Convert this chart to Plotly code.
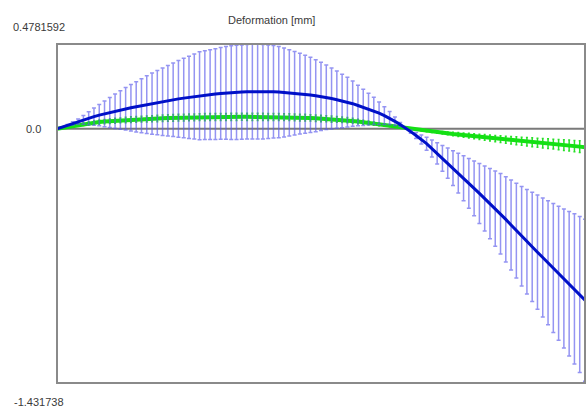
import plotly.graph_objects as go

# Position along the member (sample index) and deformation values [mm]
position = list(range(101))

blue_mean = [
    0.0, 0.0103, 0.0207, 0.0310, 0.0413, 0.0508, 0.0598, 0.0687, 0.0777, 0.0850,
    0.0919, 0.0989, 0.1059, 0.1127, 0.1186, 0.1245, 0.1305, 0.1364, 0.1421, 0.1476,
    0.1531, 0.1586, 0.1641, 0.1689, 0.1733, 0.1778, 0.1822, 0.1866, 0.1899, 0.1931,
    0.1962, 0.1994, 0.2023, 0.2040, 0.2057, 0.2074, 0.2091, 0.2099, 0.2097, 0.2095,
    0.2093, 0.2091, 0.2075, 0.2054, 0.2033, 0.2012, 0.1990, 0.1951, 0.1911, 0.1871,
    0.1830, 0.1783, 0.1713, 0.1644, 0.1574, 0.1504, 0.1419, 0.1317, 0.1216, 0.1114,
    0.1013, 0.0884, 0.0747, 0.0609, 0.0426, 0.0240, 0.0054, -0.0157, -0.0377, -0.0597,
    -0.0833, -0.1108, -0.1382, -0.1657, -0.1931, -0.2212, -0.2497, -0.2782, -0.3067, -0.3352,
    -0.3638, -0.3923, -0.4208, -0.4493, -0.4781, -0.5098, -0.5415, -0.5732, -0.6048, -0.6358,
    -0.6653, -0.6949, -0.7245, -0.7540, -0.7836, -0.8132, -0.8427, -0.8723, -0.9019, -0.9333,
    -0.9650,
]

blue_err = [
    0.0, 0.0023, 0.0046, 0.0088, 0.0148, 0.0246, 0.0364, 0.0483, 0.0603, 0.0725,
    0.0847, 0.0970, 0.1085, 0.1197, 0.1308, 0.1416, 0.1521, 0.1626, 0.1724, 0.1812,
    0.1900, 0.1989, 0.2077, 0.2162, 0.2240, 0.2317, 0.2395, 0.2473, 0.2504, 0.2531,
    0.2558, 0.2585, 0.2612, 0.2639, 0.2652, 0.2657, 0.2663, 0.2668, 0.2674, 0.2660,
    0.2630, 0.2600, 0.2570, 0.2505, 0.2428, 0.2352, 0.2275, 0.2198, 0.2122, 0.2030,
    0.1926, 0.1820, 0.1716, 0.1610, 0.1505, 0.1399, 0.1273, 0.1147, 0.1021, 0.0896,
    0.0768, 0.0634, 0.0501, 0.0367, 0.0237, 0.0113, 0.0007, 0.0087, 0.0166, 0.0254,
    0.0368, 0.0483, 0.0603, 0.0726, 0.0848, 0.0981, 0.1121, 0.1261, 0.1402, 0.1547,
    0.1691, 0.1835, 0.1979, 0.2123, 0.2267, 0.2402, 0.2538, 0.2673, 0.2808, 0.2943,
    0.3078, 0.3218, 0.3357, 0.3497, 0.3637, 0.3778, 0.3917, 0.4068, 0.4233, 0.4398,
    0.4564,
]

green_mean = [
    0.0, 0.0055, 0.0110, 0.0165, 0.0220, 0.0266, 0.0305, 0.0345, 0.0384, 0.0410,
    0.0432, 0.0455, 0.0478, 0.0501, 0.0522, 0.0535, 0.0548, 0.0561, 0.0574, 0.0586,
    0.0599, 0.0611, 0.0619, 0.0627, 0.0635, 0.0643, 0.0651, 0.0659, 0.0662, 0.0665,
    0.0668, 0.0670, 0.0673, 0.0676, 0.0678, 0.0680, 0.0678, 0.0677, 0.0676, 0.0674,
    0.0673, 0.0672, 0.0670, 0.0663, 0.0655, 0.0646, 0.0637, 0.0628, 0.0619, 0.0601,
    0.0584, 0.0567, 0.0550, 0.0533, 0.0516, 0.0497, 0.0457, 0.0417, 0.0377, 0.0337,
    0.0297, 0.0257, 0.0211, 0.0164, 0.0117, 0.0070, 0.0023, -0.0018, -0.0053, -0.0087,
    -0.0122, -0.0157, -0.0191, -0.0224, -0.0256, -0.0287, -0.0318, -0.0350, -0.0382, -0.0415,
    -0.0449, -0.0482, -0.0516, -0.0550, -0.0583, -0.0612, -0.0640, -0.0669, -0.0698, -0.0727,
    -0.0756, -0.0782, -0.0807, -0.0832, -0.0858, -0.0883, -0.0912, -0.0941, -0.0971, -0.1000,
    -0.1030,
]

green_err = [
    0.0, 0.002, 0.003, 0.005, 0.007, 0.008, 0.009, 0.010, 0.012, 0.012,
    0.013, 0.014, 0.014, 0.015, 0.016, 0.016, 0.016, 0.017, 0.017, 0.018,
    0.018, 0.018, 0.019, 0.019, 0.019, 0.019, 0.019, 0.019, 0.020, 0.020,
    0.020, 0.020, 0.020, 0.020, 0.020, 0.020, 0.020, 0.020, 0.020, 0.020,
    0.020, 0.020, 0.020, 0.019, 0.019, 0.019, 0.019, 0.019, 0.018, 0.018,
    0.018, 0.017, 0.017, 0.016, 0.015, 0.015, 0.014, 0.013, 0.011, 0.010,
    0.009, 0.008, 0.006, 0.005, 0.004, 0.002, 0.001, 0.001, 0.002, 0.003,
    0.004, 0.005, 0.006, 0.007, 0.008, 0.010, 0.011, 0.012, 0.013, 0.014,
    0.015, 0.016, 0.017, 0.018, 0.019, 0.020, 0.021, 0.022, 0.023, 0.024,
    0.025, 0.026, 0.027, 0.027, 0.028, 0.029, 0.030, 0.031, 0.032, 0.033,
    0.034,
]

y_max = 0.4781592
y_min = -1.431738
title_text = "Deformation [mm]"
label_top = "0.4781592"
label_zero = "0.0"
label_bottom = "-1.431738"

W, H = 587, 410
L, R, T, B = 57, 2, 44, 27
pw, ph = W - L - R, H - T - B

def px_x(px):
    return (px - L) / pw

def px_y(py):
    return (H - B - py) / ph

fig = go.Figure()

fig.add_trace(go.Scatter(
    x=position, y=green_mean, mode="lines",
    line=dict(color="#14e014", width=4),
    error_y=dict(type="data", array=green_err, visible=True,
                 color="#28e028", thickness=1.5, width=1),
    hoverinfo="skip", showlegend=False,
))

fig.add_trace(go.Scatter(
    x=position, y=blue_mean, mode="lines",
    line=dict(color="#0010c8", width=3),
    error_y=dict(type="data", array=blue_err, visible=True,
                 color="rgba(90,90,235,0.65)", thickness=1.5, width=2),
    hoverinfo="skip", showlegend=False,
))

fig.update_layout(
    width=W, height=H,
    margin=dict(l=L, r=R, t=T, b=B, pad=0),
    paper_bgcolor="white", plot_bgcolor="white",
    xaxis=dict(range=[position[0], position[-1]], visible=False, fixedrange=True),
    yaxis=dict(range=[y_min, y_max], visible=False, fixedrange=True),
    font=dict(family="Liberation Sans, Arial, sans-serif", size=11, color="#3a3a3a"),
    shapes=[
        dict(type="line", xref="paper", yref="y", x0=0, x1=1, y0=0, y1=0,
             line=dict(color="#7a7a7a", width=2), layer="below"),
        dict(type="rect", xref="paper", yref="paper", x0=0, x1=1, y0=0, y1=1,
             line=dict(color="#8a8a8a", width=2), layer="above"),
    ],
    annotations=[
        dict(text=title_text, xref="paper", yref="paper", x=px_x(271), y=px_y(20),
             xanchor="center", yanchor="middle", showarrow=False),
        dict(text=label_top, xref="paper", yref="paper", x=px_x(11), y=px_y(27),
             xanchor="left", yanchor="middle", showarrow=False),
        dict(text=label_zero, xref="paper", yref="y", x=px_x(43), y=0,
             xanchor="right", yanchor="middle", showarrow=False),
        dict(text=label_bottom, xref="paper", yref="paper", x=px_x(12), y=px_y(402),
             xanchor="left", yanchor="middle", showarrow=False),
    ],
)

fig.write_html("out.html")
